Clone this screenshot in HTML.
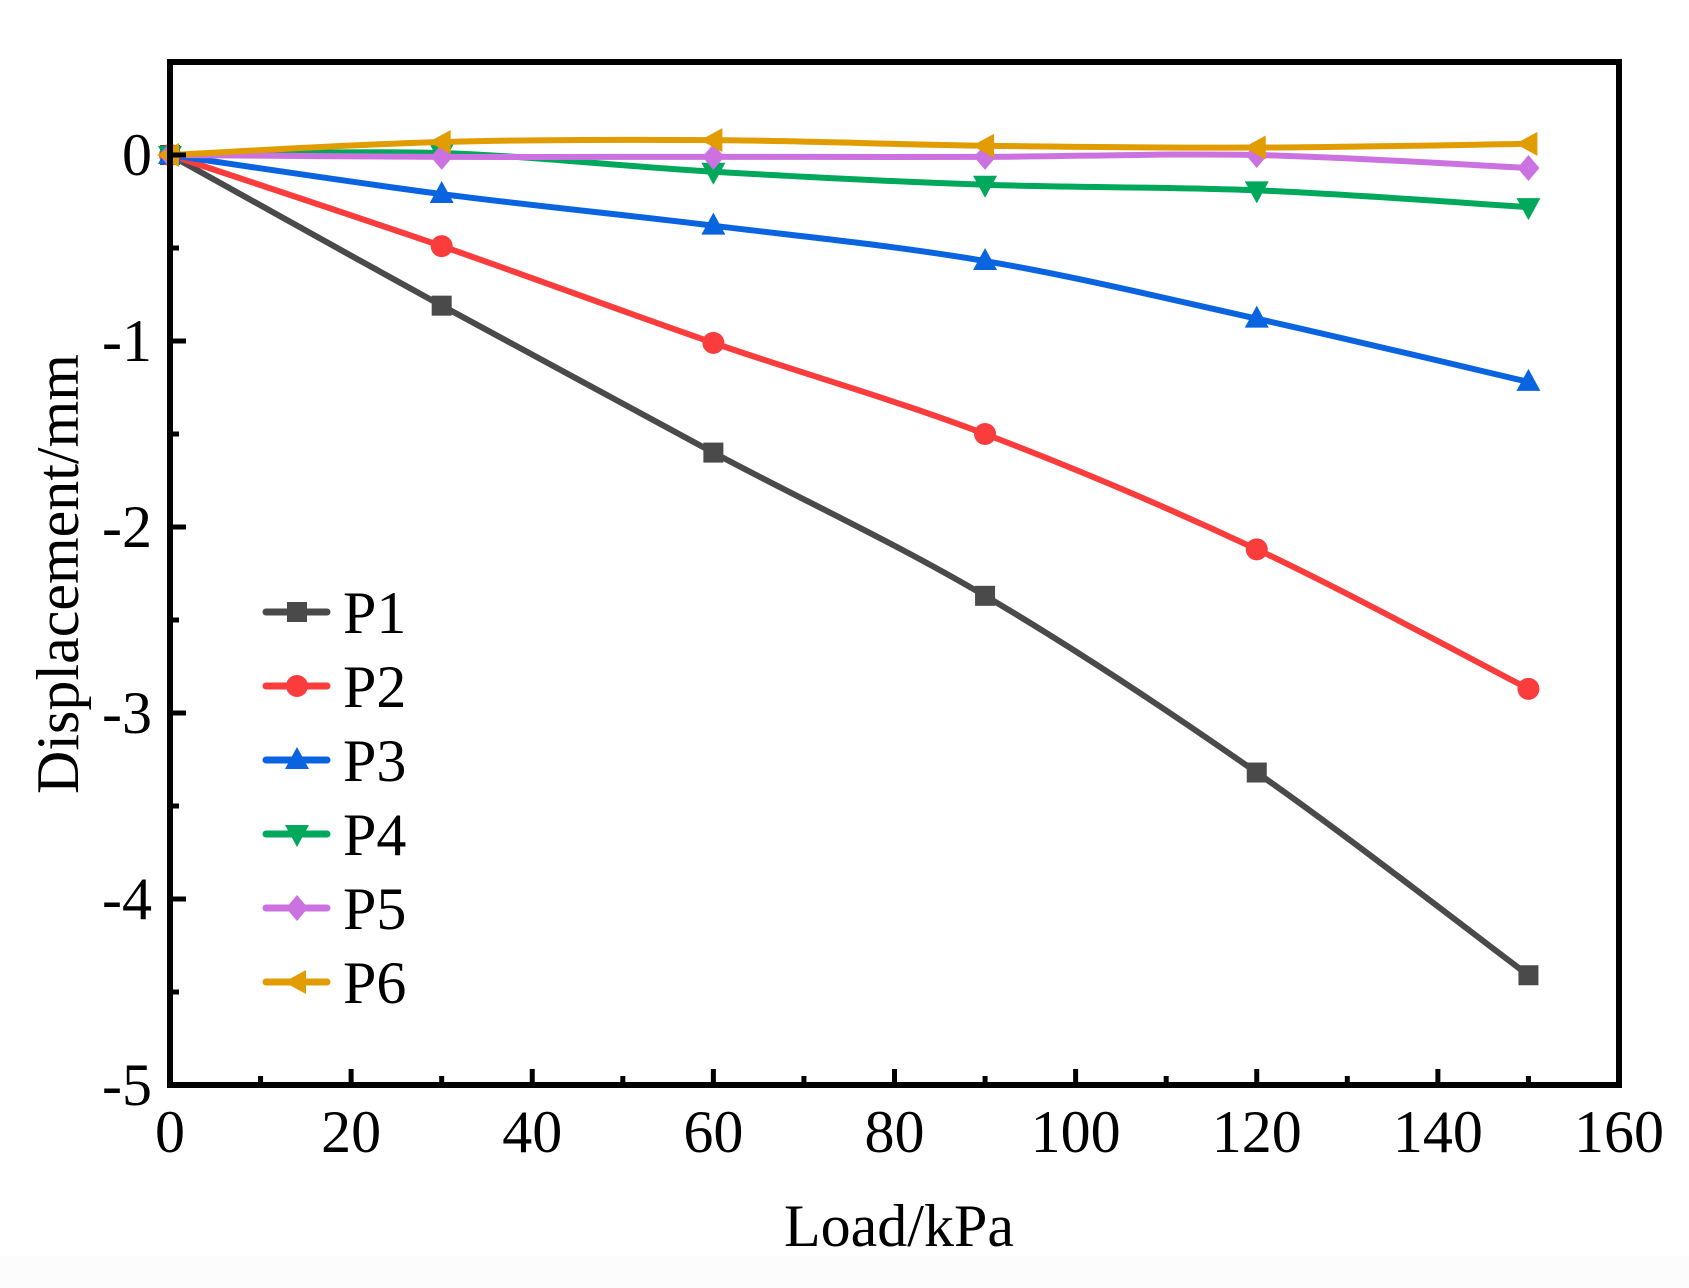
<!DOCTYPE html>
<html><head><meta charset="utf-8"><style>
html,body{margin:0;padding:0;background:#fff;}
svg{display:block;}
text{font-family:"Liberation Serif",serif;fill:#000;}
</style></head><body>
<svg width="1689" height="1288" viewBox="0 0 1689 1288" xmlns="http://www.w3.org/2000/svg">
<rect x="0" y="1256" width="1689" height="32" fill="#fcfcfc"/>
<g id="plot"></g>
<rect x="170" y="62" width="1449" height="1023" fill="none" stroke="#000" stroke-width="6"/>
<g id="ticks" stroke="#000" stroke-width="5"></g>
<g id="labels" font-size="60"></g>
<text x="899" y="1246" font-size="60" text-anchor="middle">Load/kPa</text>
<text transform="translate(78,574) rotate(-90)" font-size="60" text-anchor="middle">Displacement/mm</text>
<g id="legend"></g>
</svg>
<script>
const NS="http://www.w3.org/2000/svg";
const X=v=>170+v*1449/160, Y=v=>155-v*186;
function el(p,t,a,txt){const e=document.createElementNS(NS,t);for(const k in a)e.setAttribute(k,a[k]);if(txt!==undefined)e.textContent=txt;p.appendChild(e);return e;}
const tk=document.getElementById('ticks'),lb=document.getElementById('labels');
for(let v=0;v<=160;v+=10){const x=X(v),L=v%20==0?16:9;if(v>0&&v<160)el(tk,'line',{x1:x,y1:1085,x2:x,y2:1085-L});if(v%20==0)el(lb,'text',{x:x,y:1152,'text-anchor':'middle'},v);}
for(let v=-5;v<=0.5;v+=0.5){const y=Y(v),L=Number.isInteger(v)?16:9;if(v>-5)el(tk,'line',{x1:170,y1:y,x2:170+L,y2:y});if(Number.isInteger(v))el(lb,'text',{x:152,y:y+20,'text-anchor':'end'},v==0?'0':'-'+(-v));}
const xs=[0,30,60,90,120,150];
const S=[
['P1','#4a4a4a','sq',[0,-0.81,-1.6,-2.37,-3.32,-4.41]],
['P2','#fa3c3c','ci',[0,-0.49,-1.01,-1.5,-2.12,-2.87]],
['P3','#0a64e0','up',[0,-0.21,-0.38,-0.57,-0.88,-1.22]],
['P4','#00a85c','dn',[0,0.01,-0.09,-0.16,-0.19,-0.28]],
['P5','#cc72e0','di',[0,-0.01,-0.01,-0.01,0,-0.07]],
['P6','#e09c00','le',[0,0.07,0.08,0.05,0.04,0.06]]];
function mk(g,t,x,y,c){const r=11;
 if(t=='sq')el(g,'rect',{x:x-r+1,y:y-r+1,width:2*r-2,height:2*r-2,fill:c});
 else if(t=='ci')el(g,'circle',{cx:x,cy:y,r:r,fill:c});
 else{let p;
  if(t=='up')p=[[x,y-r-2],[x+r+1,y+r-2],[x-r-1,y+r-2]];
  if(t=='dn')p=[[x,y+r+2],[x+r+1,y-r+2],[x-r-1,y-r+2]];
  if(t=='di')p=[[x,y-r-2],[x+r,y],[x,y+r+2],[x-r,y]];
  if(t=='le')p=[[x-r-2,y],[x+r-2,y-r-1],[x+r-2,y+r+1]];
  el(g,'polygon',{points:p.map(a=>a.join(',')).join(' '),fill:c});}}
function smooth(P){let d='M'+P[0][0]+','+P[0][1];const k=0.5/3;
 for(let i=0;i<P.length-1;i++){const p0=P[i-1]||P[i],p1=P[i],p2=P[i+1],p3=P[i+2]||P[i+1];
  const c1=[p1[0]+(p2[0]-p0[0])*k,p1[1]+(p2[1]-p0[1])*k],c2=[p2[0]-(p3[0]-p1[0])*k,p2[1]-(p3[1]-p1[1])*k];
  d+=' C'+c1+' '+c2+' '+p2;}return d;}
const g=document.getElementById('plot'),lg=document.getElementById('legend');
S.forEach((s,i)=>{
 el(g,'path',{d:smooth(xs.map((v,j)=>[X(v),Y(s[3][j])])),fill:'none',stroke:s[1],'stroke-width':6,'stroke-linejoin':'round'});
 xs.forEach((v,j)=>mk(g,s[2],X(v),Y(s[3][j]),s[1]));
 const y=612+i*74;
 el(lg,'line',{x1:266,y1:y,x2:327,y2:y,stroke:s[1],'stroke-width':7,'stroke-linecap':'round'});
 mk(lg,s[2],297,y,s[1]);
 el(lg,'text',{x:343,y:y+21,'font-size':60},s[0]);
});
</script>
</body></html>
